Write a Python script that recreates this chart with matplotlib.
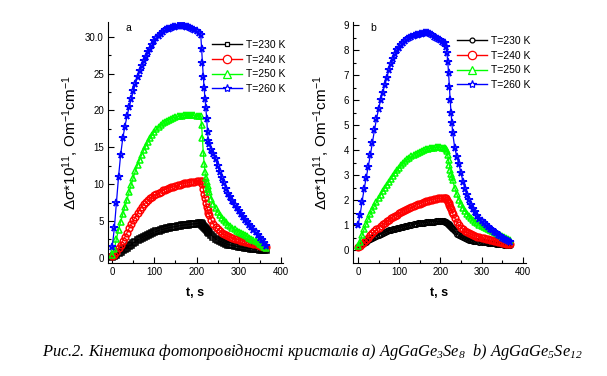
import numpy as np
import matplotlib
matplotlib.use("Agg")
import matplotlib.pyplot as plt
from matplotlib.lines import Line2D

plt.rcParams['font.family'] = ['Liberation Sans', 'DejaVu Sans']
plt.rcParams['mathtext.default'] = 'regular'

# ---- data, panel a (AgGaGe3Se8) ----
t_a = ([0, 5, 10, 15, 20, 25, 30, 35, 40, 45, 50, 55, 60, 65, 70, 75, 80, 85, 90, 95,
        100, 105, 110, 115, 120, 125, 130, 135, 140, 145, 150, 155, 160, 165, 170, 175,
        180, 185, 190, 195, 200, 205, 210,
        212, 214, 216, 218, 220, 222, 224, 226, 228, 230,
        235, 240, 245, 250, 255, 260, 265, 270, 275, 280, 285, 290, 295, 300, 305, 310,
        315, 320, 325, 330, 335, 340, 345, 350, 355, 360, 365])
a_230 = [0.05, 0.2, 0.4, 0.6, 0.8, 1.0, 1.2, 1.4, 1.6, 1.8, 2.0, 2.2, 2.4, 2.55, 2.7, 2.85,
         3.0, 3.1, 3.25, 3.35, 3.5, 3.6, 3.7, 3.8, 3.85, 3.95, 4.0, 4.1, 4.15, 4.2, 4.25,
         4.3, 4.35, 4.4, 4.45, 4.5, 4.5, 4.55, 4.6, 4.6, 4.65, 4.7, 4.75,
         4.6, 4.5, 4.35, 4.2, 4.05, 3.9, 3.8, 3.65, 3.55, 3.4,
         3.1, 2.8, 2.6, 2.4, 2.25, 2.15, 2.0, 1.9, 1.8, 1.75, 1.68, 1.62, 1.57, 1.52, 1.47,
         1.42, 1.38, 1.33, 1.3, 1.26, 1.22, 1.18, 1.15, 1.12, 1.08, 1.05, 1.02]
a_240 = [0.2, 0.35, 0.8, 1.3, 1.8, 2.3, 2.8, 3.4, 4.0, 4.6, 5.1, 5.6, 6.1, 6.5, 6.9, 7.25,
         7.55, 7.85, 8.1, 8.3, 8.5, 8.7, 8.85, 9.0, 9.15, 9.25, 9.35, 9.45, 9.55, 9.65, 9.75,
         9.85, 9.95, 10.05, 10.1, 10.15, 10.2, 10.25, 10.3, 10.35, 10.4, 10.4, 10.45,
         10.4, 10.0, 9.4, 8.7, 8.1, 7.5, 6.95, 6.5, 6.1, 5.8,
         5.1, 4.6, 4.2, 3.85, 3.6, 3.4, 3.2, 3.05, 2.9, 2.8, 2.7, 2.6, 2.5, 2.42, 2.34,
         2.26, 2.2, 2.12, 2.05, 1.98, 1.9, 1.82, 1.75, 1.67, 1.6, 1.52, 1.45]
a_250 = [0.4, 1.2, 2.6, 3.8, 4.9, 5.9, 6.9, 7.9, 8.9, 9.9, 10.9, 11.8, 12.6, 13.3, 14.0,
         14.6, 15.2, 15.7, 16.2, 16.7, 17.1, 17.45, 17.75, 18.0, 18.25, 18.45, 18.6, 18.75,
         18.9, 19.0, 19.1, 19.2, 19.25, 19.3, 19.35, 19.4, 19.4, 19.4, 19.4, 19.35, 19.3,
         19.3, 19.2,
         18.0, 16.2, 14.2, 12.8, 11.6, 10.9, 10.3, 9.8, 9.3, 8.9,
         8.0, 7.3, 6.7, 6.2, 5.8, 5.4, 5.1, 4.8, 4.5, 4.3, 4.1, 3.9, 3.7, 3.5, 3.35, 3.2,
         3.05, 2.9, 2.75, 2.6, 2.45, 2.3, 2.1, 1.9, 1.7, 1.5, 1.3]
a_260 = [1.5, 4.0, 7.5, 11.0, 14.0, 16.2, 17.8, 19.2, 20.4, 21.5, 22.6, 23.6, 24.5, 25.3,
         26.0, 26.7, 27.3, 27.9, 28.4, 28.9, 29.4, 29.8, 30.1, 30.4, 30.65, 30.85, 31.0,
         31.1, 31.2, 31.3, 31.35, 31.4, 31.45, 31.45, 31.4, 31.35, 31.3, 31.2, 31.1, 30.95,
         30.8, 30.5, 30.2,
         28.4, 26.4, 24.6, 23.0, 21.6, 20.3, 18.9, 17.1, 15.8, 15.4,
         14.7, 14.1, 13.4, 12.4, 11.6, 10.8, 10.1, 9.4, 8.7, 8.2, 7.7, 7.2, 6.8, 6.4, 6.0,
         5.6, 5.2, 4.85, 4.5, 4.15, 3.8, 3.45, 3.1, 2.75, 2.4, 2.0, 1.6]

# ---- data, panel b (AgGaGe5Se12) ----
t_b = ([0, 5, 10, 15, 20, 25, 30, 35, 40, 45, 50, 55, 60, 65, 70, 75, 80, 85, 90, 95,
        100, 105, 110, 115, 120, 125, 130, 135, 140, 145, 150, 155, 160, 165, 170, 175,
        180, 185, 190, 195, 200, 205, 210,
        212, 214, 216, 218, 220, 222, 224, 226, 228, 230,
        235, 240, 245, 250, 255, 260, 265, 270, 275, 280, 285, 290, 295, 300, 305, 310,
        315, 320, 325, 330, 335, 340, 345, 350, 355, 360, 365, 370])
b_230 = [0.15, 0.2, 0.25, 0.3, 0.35, 0.41, 0.46, 0.51, 0.55, 0.59, 0.63, 0.67, 0.7, 0.74,
         0.77, 0.8, 0.83, 0.85, 0.87, 0.89, 0.91, 0.93, 0.95, 0.97, 0.99, 1.01, 1.03, 1.05,
         1.06, 1.08, 1.09, 1.1, 1.11, 1.12, 1.13, 1.14, 1.15, 1.15, 1.16, 1.16, 1.16, 1.16,
         1.16,
         1.15, 1.13, 1.1, 1.07, 1.04, 1.0, 0.96, 0.92, 0.88, 0.84,
         0.76, 0.67, 0.61, 0.56, 0.52, 0.49, 0.46, 0.43, 0.41, 0.39, 0.38, 0.36, 0.35, 0.34,
         0.33, 0.32, 0.31, 0.3, 0.29, 0.28, 0.27, 0.26, 0.25, 0.24, 0.23, 0.22, 0.21, 0.2]
b_240 = [0.15, 0.17, 0.25, 0.33, 0.42, 0.51, 0.6, 0.68, 0.76, 0.84, 0.91, 0.98, 1.04, 1.1,
         1.16, 1.22, 1.28, 1.33, 1.38, 1.43, 1.48, 1.52, 1.57, 1.61, 1.65, 1.69, 1.73, 1.77,
         1.81, 1.84, 1.87, 1.9, 1.93, 1.96, 1.99, 2.01, 2.03, 2.05, 2.07, 2.08, 2.09, 2.1,
         2.1,
         2.1, 2.08, 2.02, 1.95, 1.88, 1.8, 1.73, 1.64, 1.55, 1.47,
         1.3, 1.14, 1.0, 0.91, 0.84, 0.78, 0.73, 0.69, 0.65, 0.61, 0.58, 0.55, 0.52, 0.5,
         0.48, 0.46, 0.44, 0.42, 0.41, 0.39, 0.37, 0.35, 0.33, 0.31, 0.29, 0.27, 0.25, 0.24]
b_250 = [0.17, 0.35, 0.6, 0.85, 1.06, 1.26, 1.45, 1.62, 1.78, 1.93, 2.08, 2.22, 2.37, 2.5,
         2.63, 2.75, 2.87, 2.98, 3.09, 3.2, 3.31, 3.4, 3.49, 3.57, 3.64, 3.7, 3.76, 3.81,
         3.86, 3.9, 3.94, 3.98, 4.01, 4.04, 4.06, 4.08, 4.1, 4.11, 4.12, 4.12, 4.12, 4.11,
         4.1,
         4.08, 4.04, 3.98, 3.8, 3.6, 3.4, 3.2, 3.06, 2.93, 2.8,
         2.5, 2.25, 2.03, 1.85, 1.7, 1.57, 1.46, 1.36, 1.28, 1.2, 1.14, 1.08, 1.03, 0.98,
         0.93, 0.89, 0.85, 0.81, 0.77, 0.73, 0.69, 0.65, 0.61, 0.57, 0.53, 0.49, 0.46, 0.43]
b_260 = [1.0, 1.4, 1.95, 2.45, 2.9, 3.35, 3.8, 4.3, 4.8, 5.25, 5.65, 6.0, 6.3, 6.6, 6.9,
         7.2, 7.45, 7.65, 7.85, 8.0, 8.1, 8.2, 8.3, 8.38, 8.45, 8.5, 8.55, 8.58, 8.6, 8.62,
         8.64, 8.66, 8.68, 8.7, 8.7, 8.65, 8.6, 8.55, 8.5, 8.45, 8.4, 8.35, 8.3,
         8.3, 8.15, 7.9, 7.55, 7.1, 6.55, 6.0, 5.5, 5.1, 4.7,
         4.1, 3.75, 3.45, 3.1, 2.75, 2.45, 2.2, 2.0, 1.82, 1.66, 1.52, 1.39, 1.27, 1.17,
         1.08, 1.0, 0.93, 0.86, 0.8, 0.74, 0.68, 0.62, 0.56, 0.51, 0.46, 0.42, 0.38, 0.35]

labels = ['T=230 K', 'T=240 K', 'T=250 K', 'T=260 K']
colors = ['#000000', '#ff0000', '#00ff00', '#0000ff']

W, H = 607, 376
fig = plt.figure(figsize=(W / 100, H / 100), dpi=100)


def px_axes(l, t, r, b):
    return fig.add_axes([l / W, 1 - b / H, (r - l) / W, (b - t) / H])


ax_a = px_axes(108, 22, 283, 263)
ax_b = px_axes(353, 22, 526, 263)

panels = [
    (ax_a, t_a, [a_230, a_240, a_250, a_260], ['s', 'o', '^', '*'],
     [4.0, 4.8, 5.0, 5.5], [3.0, 6.0, 6.0, 6.0], (-10, 405), (-0.7, 32.0), 5, 2.5, 'a',
     (211.7, 40), -0.155),
    (ax_b, t_b, [b_230, b_240, b_250, b_260], ['o', 'o', '^', '*'],
     [4.0, 4.8, 5.0, 5.5], [3.5, 6.0, 6.0, 6.0], (-12, 408), (-0.5, 9.13), 1, 0.5, 'b',
     (456.7, 36), -0.12),
]

for ax, t, series, mks, ms_plot, ms_leg, xl, yl, ymaj, ymin, tag, lpos, ylx in panels:
    handles = []
    for y, c, m, ms, msl, lab in zip(series, colors, mks, ms_plot, ms_leg, labels):
        ax.plot(t, y, color=c, lw=0.9, marker=m, ms=ms, mfc='none', mec=c, mew=1.1)
        handles.append(Line2D([], [], color=c, lw=1.0, marker=m, ms=msl,
                              mfc='white', mec=c, mew=0.9, label=lab))
    ax.set_xlim(*xl)
    ax.set_ylim(*yl)
    ax.set_xticks([0, 100, 200, 300, 400])
    ax.set_xticks([50, 150, 250, 350], minor=True)
    ax.set_yticks(np.arange(0, yl[1] + 0.01, ymaj))
    ax.set_yticks(np.arange(ymin, yl[1], ymaj), minor=True)
    for s in ['top', 'right']:
        ax.spines[s].set_visible(False)
    for s in ['left', 'bottom']:
        ax.spines[s].set_linewidth(0.8)
    ax.tick_params(which='major', direction='in', length=4, width=0.8, labelsize=7, pad=3)
    ax.tick_params(which='minor', direction='in', length=2.5, width=0.8)
    ax.set_xlabel('t, s', fontsize=9, fontweight='bold')
    ax.xaxis.set_label_coords(0.5, -0.1)
    ax.set_ylabel(r'$\Delta\sigma$*10$^{11}$, Om$^{-1}$cm$^{-1}$', fontsize=11)
    ax.yaxis.set_label_coords(ylx, 0.5)
    ax.text(0.1, 0.975, tag, transform=ax.transAxes, fontsize=7.5, ha='left', va='center')
    ax.legend(handles=handles, loc='upper left', frameon=False, fontsize=7.5,
              bbox_to_anchor=(lpos[0] / W, 1 - lpos[1] / H), bbox_transform=fig.transFigure,
              borderpad=0, borderaxespad=0, handlelength=2.9, handletextpad=0.4,
              labelspacing=0.45, numpoints=1)

ax_a.set_yticklabels(['0', '5', '10', '15', '20', '25', '30.0'])

fig.text(42 / W, 1 - 352 / H,
         'Рис.2. Кінетика фотопровідності кристалів a) AgGaGe$_3$Se$_8$  b) AgGaGe$_5$Se$_{12}$',
         family=['Liberation Serif', 'DejaVu Serif'], style='italic', fontsize=11.8,
         ha='left', va='center')

fig.savefig('out.png', dpi=100)
